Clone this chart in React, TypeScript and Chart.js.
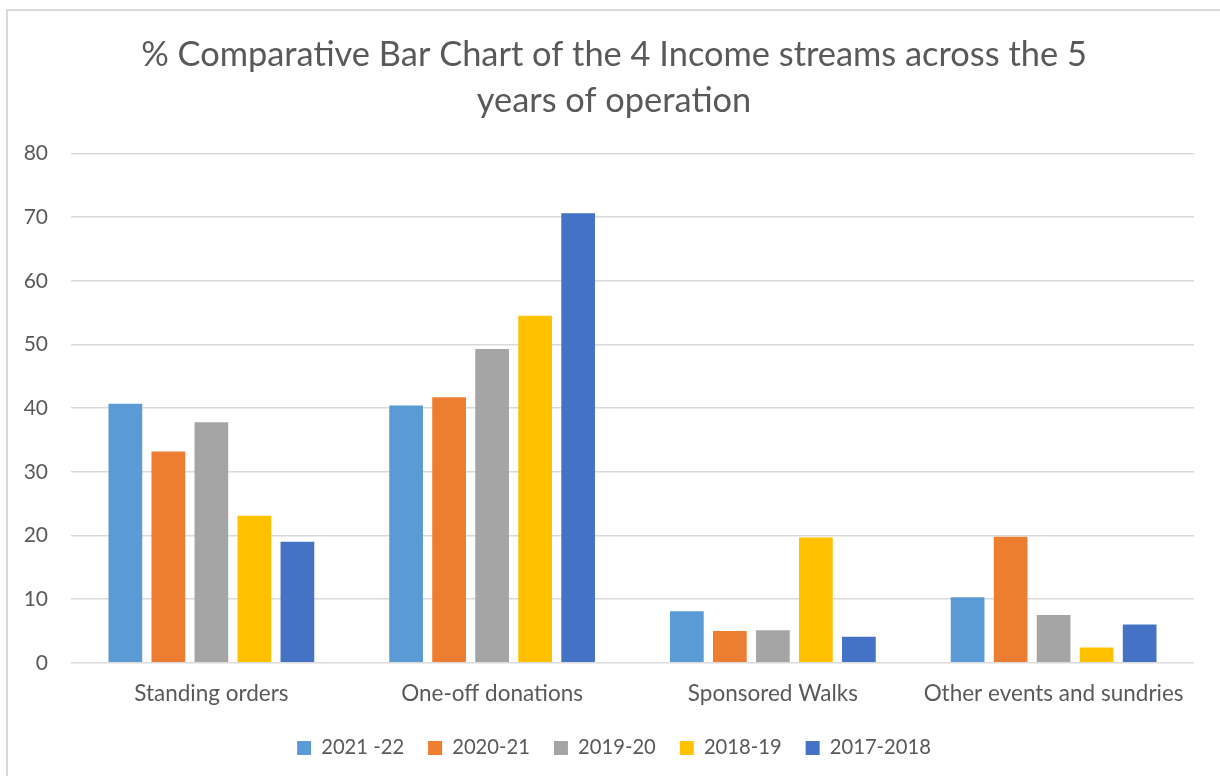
import React, { useEffect, useRef } from "react";
import { Chart, registerables } from "chart.js";

Chart.register(...registerables);

// ---- data ----
const categories = ["Standing orders", "One-off donations", "Sponsored Walks", "Other events and sundries"];
const seriesLabels = ["2021 -22", "2020-21", "2019-20", "2018-19", "2017-2018"];
const s2021_22 = [40.7, 40.4, 8.1, 10.3];
const s2020_21 = [33.2, 41.7, 5.0, 19.8];
const s2019_20 = [37.8, 49.3, 5.1, 7.5];
const s2018_19 = [23.1, 54.5, 19.7, 2.4];
const s2017_18 = [19.0, 70.6, 4.1, 6.0];
const seriesColors = ["#5B9BD5", "#ED7D31", "#A5A5A5", "#FFC000", "#4472C4"];
const yMin = 0;
const yMax = 80;
const yStep = 10;
const titleLines = [
  "% Comparative Bar Chart of the 4 Income streams across the 5",
  "years of operation",
];

const FONT = "Lato, 'Open Sans', sans-serif";
const TEXT = "#595959";

export default function App() {
  const ref = useRef<HTMLCanvasElement | null>(null);

  useEffect(() => {
    let chart: Chart | null = null;
    let cancelled = false;
    const make = () => {
      if (cancelled || !ref.current) return;
      const values = [s2021_22, s2020_21, s2019_20, s2018_19, s2017_18];
      chart = new Chart(ref.current, {
        type: "bar",
        data: {
          labels: categories,
          datasets: values.map((v, i) => ({
            label: seriesLabels[i],
            data: v,
            backgroundColor: seriesColors[i],
            borderWidth: 0,
            categoryPercentage: 0.766,
            barPercentage: 0.784,
          })),
        },
        options: {
          animation: false,
          responsive: false,
          devicePixelRatio: 1,
          layout: { padding: { left: 0, right: 0, top: 0, bottom: 8 } },
          plugins: {
            tooltip: { enabled: false },
            title: {
              display: true,
              text: titleLines,
              color: TEXT,
              font: { family: FONT, size: 34.4, weight: "normal", lineHeight: 1.33 },
              padding: { top: 21, bottom: 30 },
            },
            legend: {
              position: "bottom",
              labels: {
                color: TEXT,
                font: { family: FONT, size: 20.2 },
                boxWidth: 14,
                boxHeight: 14,
                padding: 24,
              },
            },
          },
          scales: {
            x: {
              grid: { display: false, drawTicks: false },
              border: { display: false },
              ticks: { color: TEXT, font: { family: FONT, size: 22.5 }, padding: 17.5, maxRotation: 0 },
              afterFit: (s: any) => {
                s.height = 51;
              },
            },
            y: {
              min: yMin,
              max: yMax,
              grid: { color: "#d9d9d9", lineWidth: 1.5, drawTicks: false },
              border: { display: false },
              ticks: { stepSize: yStep, color: TEXT, font: { family: FONT, size: 21 }, padding: 23 },
              afterFit: (s: any) => {
                s.width = 63;
              },
            },
            y2: {
              position: "right",
              min: 0,
              max: 1,
              grid: { display: false, drawTicks: false },
              border: { display: false },
              ticks: { display: false },
              afterFit: (s: any) => {
                s.width = 26;
              },
            },
          },
        },
      });
    };
    const fontsApi = (document as any).fonts;
    if (fontsApi && fontsApi.load) {
      Promise.all([fontsApi.load("20px Lato"), fontsApi.load("32px Lato")])
        .catch(() => null)
        .then(make);
    } else {
      make();
    }
    return () => {
      cancelled = true;
      if (chart) chart.destroy();
    };
  }, []);

  return (
    <div
      style={{
        position: "fixed",
        left: 0,
        top: 0,
        width: 1220,
        height: 776,
        overflow: "hidden",
        background: "#ffffff",
      }}
    >
      <div
        style={{
          position: "absolute",
          left: 6,
          top: 9,
          width: 1230,
          height: 800,
          border: "2px solid #d9d9d9",
          boxSizing: "border-box",
          background: "#ffffff",
        }}
      >
        <canvas ref={ref} width={1212} height={765} style={{ display: "block", width: 1212, height: 765 }} />
      </div>
    </div>
  );
}
